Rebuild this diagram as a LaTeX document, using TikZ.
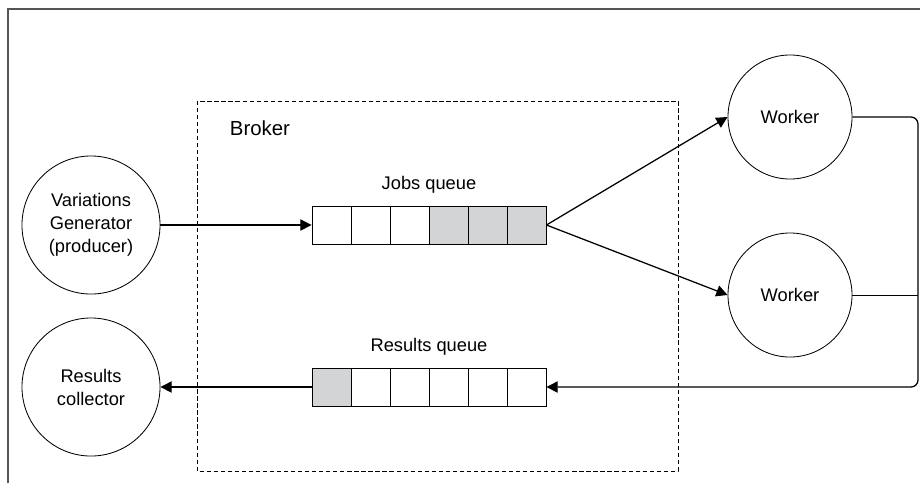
\documentclass[tikz,border=0pt]{standalone}
\usepackage{fontspec}
\setmainfont{Liberation Sans}
\usetikzlibrary{arrows.meta}
\definecolor{cellgray}{RGB}{211,212,214}
\definecolor{framegray}{RGB}{85,85,85}
\tikzset{
  actor/.style={draw, circle, line width=0.6pt, align=center, inner sep=0pt},
  cell/.style={draw, line width=0.6pt, minimum width=0.975cm, minimum height=0.95cm, inner sep=0pt},
  flow/.style={line width=0.9pt, -{Triangle[length=8pt,width=8pt]}}
}
\begin{document}
\begin{tikzpicture}[x=0.025cm, y=-0.025cm, font=\fontsize{13}{16.3}\selectfont]
\useasboundingbox (0,0) rectangle (920,483);
\draw[framegray, line width=1.4pt] (8,483) -- (8,9) -- (920,9);
\draw[dash pattern=on 3pt off 2pt, line width=0.6pt] (197,101) rectangle (678,471);
\node[font=\fontsize{14.5}{17}\selectfont] (broker) at (260,128) {Broker};
\node[actor, minimum size=3.45cm] (gen) at (91,225) {Variations\\Generator\\(producer)};
\node[actor, minimum size=3.45cm] (coll) at (91,387) {Results\\collector};
\node[actor, minimum size=3.1cm] (w1) at (790,117) {Worker};
\node[actor, minimum size=3.1cm] (w2) at (790,295) {Worker};
\foreach \i in {1,...,6} {
  \ifnum\i>3
    \node[cell, fill=cellgray] (j\i) at (292.5+39*\i,225) {};
  \else
    \node[cell] (j\i) at (292.5+39*\i,225) {};
  \fi
  \ifnum\i=1
    \node[cell, fill=cellgray] (r\i) at (292.5+39*\i,387) {};
  \else
    \node[cell] (r\i) at (292.5+39*\i,387) {};
  \fi
}
\node (jobslbl) at (429,185) {Jobs queue};
\node (reslbl) at (429,347) {Results queue};
\coordinate (ret) at (918,0);
\draw[flow] (gen) -- (j1.west);
\draw[flow] (j6.east) -- (w1.west);
\draw[flow] (j6.east) -- (w2.west);
\draw[flow, rounded corners=5pt] (w1.east) -- (w1.east -| ret) |- (r6.east);
\draw[line width=0.6pt] (w2.east) -- (w2.east -| ret);
\draw[flow] (r1.west) -- (coll);
\end{tikzpicture}
\end{document}
